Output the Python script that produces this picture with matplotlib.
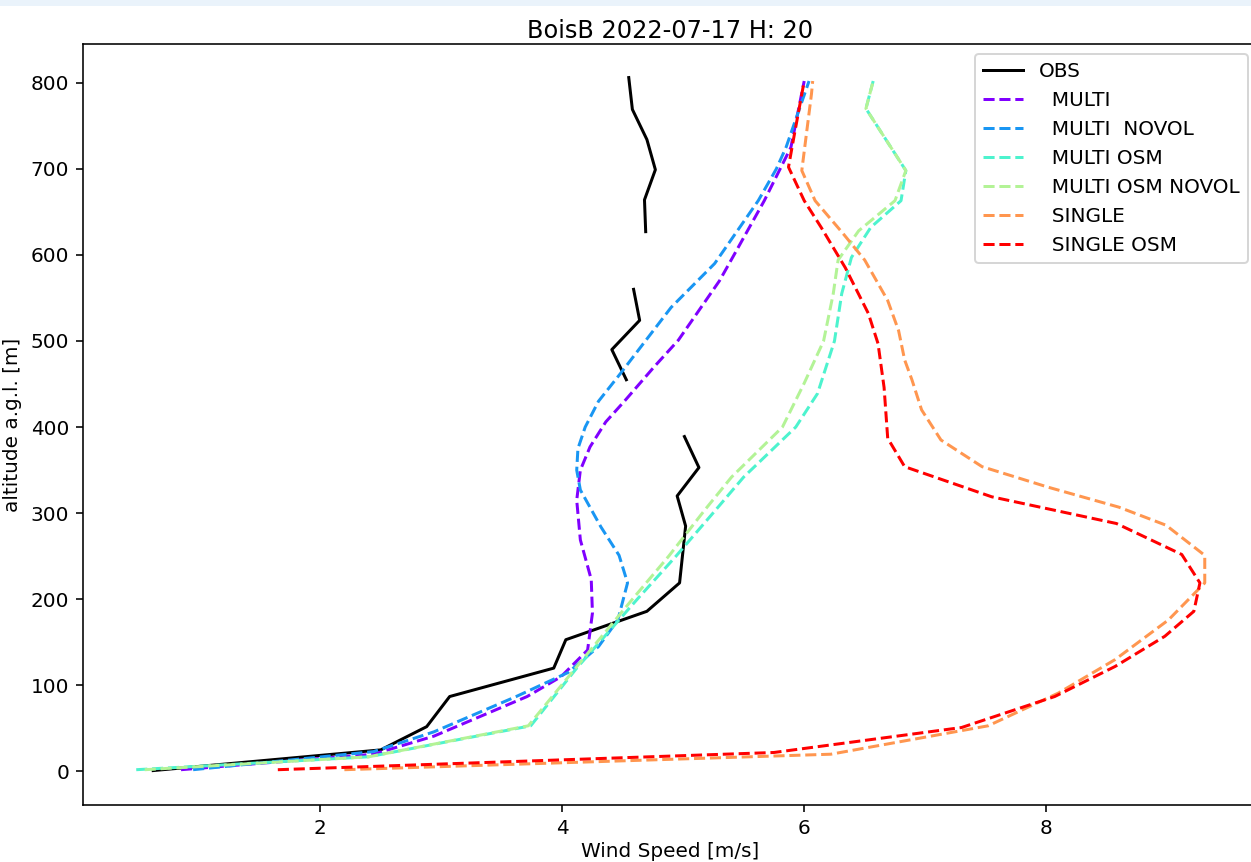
import numpy as np
import matplotlib
matplotlib.use("Agg")
import matplotlib.pyplot as plt
from matplotlib.patches import Rectangle

# observed profile (NaN = missing levels)
obs_z = [806, 769, 734, 699, 664, 627, np.nan, 560, 524, 490, 455, np.nan,
         389, 353, 320, 285, 219, 186, 153, 120, 87, 52, 25, 1]
obs_ws = [4.55, 4.58, 4.70, 4.77, 4.68, 4.69, np.nan, 4.59, 4.64, 4.41, 4.53, np.nan,
          5.01, 5.13, 4.95, 5.02, 4.97, 4.70, 4.03, 3.93, 3.07, 2.88, 2.50, 0.62]

multi_z = [2, 20, 41, 87, 110, 141, 184, 223, 269, 315, 350, 377, 406, 431,
           470, 501, 570, 600, 663, 725, 802]
multi_ws = [0.85, 2.44, 2.94, 3.71, 3.99, 4.21, 4.25, 4.24, 4.15, 4.12, 4.15, 4.23, 4.36, 4.52,
            4.76, 4.96, 5.30, 5.42, 5.67, 5.89, 6.00]

novol_z = [2, 23, 46, 87, 115, 145, 176, 219, 251, 284, 327, 350, 375, 400, 430,
           462, 539, 590, 663, 700, 725, 802]
novol_ws = [0.95, 2.44, 2.94, 3.62, 4.05, 4.30, 4.46, 4.54, 4.47, 4.32, 4.15, 4.12, 4.13, 4.19, 4.30,
            4.48, 4.90, 5.26, 5.62, 5.77, 5.85, 6.04]

osm_z = [2, 17, 53, 120, 200, 250, 304, 342, 400, 439, 500, 555, 597, 632,
         663, 698, 770, 802]
osm_ws = [0.48, 2.40, 3.74, 4.12, 4.62, 4.94, 5.27, 5.50, 5.93, 6.11, 6.25, 6.31, 6.39, 6.55,
          6.80, 6.84, 6.51, 6.57]

osm_novol_z = [2, 17, 53, 120, 200, 250, 304, 342, 400, 451, 500, 555, 594, 628,
               663, 698, 770, 802]
osm_novol_ws = [0.55, 2.40, 3.72, 4.11, 4.58, 4.88, 5.18, 5.40, 5.82, 6.00, 6.16, 6.24, 6.28, 6.45,
                6.75, 6.84, 6.51, 6.57]

single_z = [2, 20, 53, 91, 130, 176, 219, 251, 286, 307, 330, 354, 385, 420,
            455, 478, 512, 547, 594, 625, 663, 698, 787, 802]
single_ws = [2.20, 6.22, 7.52, 8.10, 8.57, 9.01, 9.31, 9.31, 8.99, 8.60, 8.02, 7.47, 7.13, 6.97,
             6.89, 6.83, 6.78, 6.69, 6.50, 6.32, 6.09, 5.98, 6.06, 6.07]

single_osm_z = [2, 22, 51, 87, 122, 157, 186, 219, 252, 288, 319, 354, 387, 446,
                497, 532, 585, 632, 663, 702, 741, 802]
single_osm_ws = [1.65, 5.75, 7.30, 8.07, 8.57, 8.98, 9.22, 9.27, 9.12, 8.58, 7.55, 6.83, 6.69, 6.66,
                 6.61, 6.53, 6.34, 6.14, 6.00, 5.87, 5.92, 6.00]

model_names = ["  MULTI", "  MULTI  NOVOL", "  MULTI OSM", "  MULTI OSM NOVOL",
               "  SINGLE", "  SINGLE OSM"]
model_ws = [multi_ws, novol_ws, osm_ws, osm_novol_ws, single_ws, single_osm_ws]
model_z = [multi_z, novol_z, osm_z, osm_novol_z, single_z, single_osm_z]

DPI = 144
fig = plt.figure(figsize=(1251 / DPI, 862 / DPI), dpi=DPI)
fig.patches.append(Rectangle((0, 1 - 6 / 862), 1, 6 / 862, transform=fig.transFigure,
                             facecolor="#eaf3fb", edgecolor="none", zorder=-1))
ax = fig.add_axes([83 / 1251, 57 / 862, 1175 / 1251, 761 / 862])

ax.plot(obs_ws, obs_z, color="black", lw=1.5, label="OBS")
colors = plt.cm.rainbow(np.linspace(0, 1, len(model_names)))
for name, ws, z, c in zip(model_names, model_ws, model_z, colors):
    ax.plot(ws, z, "--", color=c, lw=1.5, label=name)

ax.set_xlim(0.04, 9.75)
ax.set_ylim(-39, 845)
ax.set_xticks([2, 4, 6, 8])
ax.set_yticks(range(0, 801, 100))
ax.set_xlabel("Wind Speed [m/s]", labelpad=2)
ax.set_ylabel("altitude a.g.l. [m]")
ax.set_title("BoisB 2022-07-17 H: 20", pad=3)
ax.legend(loc="upper right")

fig.savefig("out.png", dpi=DPI)
